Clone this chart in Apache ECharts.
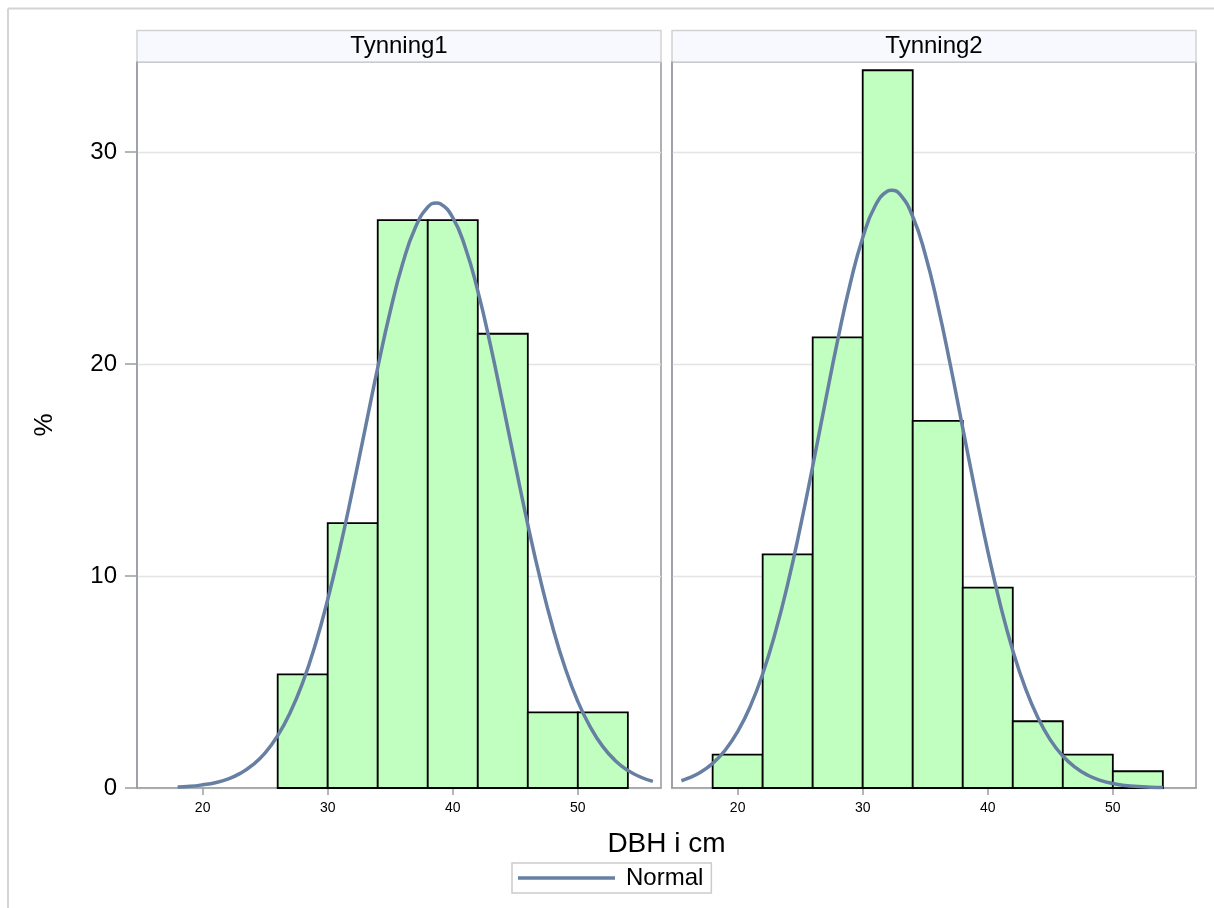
<!DOCTYPE html>
<html>
<head>
<meta charset="utf-8">
<style>
  html, body { margin: 0; padding: 0; background: #ffffff; }
  #chart { width: 1214px; height: 908px; }
</style>
<script src="https://cdn.jsdelivr.net/npm/echarts@6/dist/echarts.min.js"></script>
</head>
<body>
<div id="chart"></div>
<script>
// ---------- data ----------
const panels = ['Tynning1', 'Tynning2'];

// histogram bins (DBH in cm) and percent of trees
const binStart1 = [26, 30, 34, 38, 42, 46, 50];
const binEnd1   = [30, 34, 38, 42, 46, 50, 54];
const pct1      = [5.36, 12.5, 26.79, 26.79, 21.43, 3.57, 3.57];

const binStart2 = [18, 22, 26, 30, 34, 38, 42, 46, 50];
const binEnd2   = [22, 26, 30, 34, 38, 42, 46, 50, 54];
const pct2      = [1.57, 11.02, 21.26, 33.86, 17.32, 9.45, 3.15, 1.57, 0.79];

// fitted normal curve
const curveX1 = [18, 19, 20, 21, 22, 23, 24, 25, 26, 27, 28, 29, 30, 31, 32, 33, 34, 35, 36, 37, 38, 38.7, 39, 40, 41, 42, 43, 44, 45, 46, 47, 48, 49, 50, 51, 52, 53, 54, 55, 56];
const curveY1 = [0.05, 0.08, 0.15, 0.25, 0.42, 0.69, 1.09, 1.66, 2.47, 3.56, 4.97, 6.75, 8.89, 11.36, 14.10, 16.97, 19.83, 22.49, 24.75, 26.43, 27.40, 27.6, 27.56, 26.91, 25.50, 23.45, 20.93, 18.12, 15.24, 12.43, 9.84, 7.56, 5.64, 4.08, 2.87, 1.95, 1.29, 0.83, 0.52, 0.31];

const curveX2 = [15.5, 16, 17, 18, 19, 20, 21, 22, 23, 24, 25, 26, 27, 28, 29, 30, 31, 32, 32.3, 33, 34, 35, 36, 37, 38, 39, 40, 41, 42, 43, 44, 45, 46, 47, 48, 49, 50, 51, 52, 53, 54];
const curveY2 = [0.34, 0.45, 0.73, 1.16, 1.78, 2.66, 3.84, 5.38, 7.31, 9.62, 12.28, 15.18, 18.19, 21.13, 23.79, 25.96, 27.47, 28.16, 28.2, 27.99, 26.96, 25.17, 22.77, 19.98, 16.98, 14.00, 11.18, 8.65, 6.49, 4.72, 3.33, 2.27, 1.51, 0.97, 0.60, 0.36, 0.21, 0.12, 0.07, 0.04, 0.02];

const xTicks = [20, 30, 40, 50];
const yTicks = [0, 10, 20, 30];

// ---------- chart ----------
const FONT = "'Liberation Sans', Arial, sans-serif";
const BORDER = '#9A9EA3';
const CURVE = '#667FA2';

function zip3(a, b, c) { return a.map((v, i) => [v, b[i], c[i]]); }
function zip2(a, b) { return a.map((v, i) => [v, b[i]]); }

function renderBar(params, api) {
  const p0 = api.coord([api.value(0), api.value(2)]);
  const p1 = api.coord([api.value(1), 0]);
  return {
    type: 'rect',
    shape: { x: p0[0], y: p0[1], width: p1[0] - p0[0], height: p1[1] - p0[1] },
    style: { fill: '#C0FFC0', stroke: '#000000', lineWidth: 1.8 }
  };
}

const gridLeft = [137, 672];
const gridW = 524;

function xAxis(i) {
  return {
    type: 'value', gridIndex: i, min: 14.75, max: 56.65,
    axisLine: { show: true, lineStyle: { color: BORDER, width: 1.5 } },
    axisTick: { show: true, length: 7, lineStyle: { color: BORDER, width: 1.5 }, customValues: xTicks },
    axisLabel: { show: true, customValues: xTicks, fontSize: 14, color: '#000', fontFamily: FONT, margin: 13 },
    splitLine: { show: false }
  };
}
function yAxis(i) {
  return {
    type: 'value', gridIndex: i, min: 0, max: 34.25, interval: 10,
    axisLine: { show: true, lineStyle: { color: BORDER, width: 1.5 } },
    axisTick: { show: i === 0, length: 12, lineStyle: { color: BORDER, width: 1.5 }, customValues: yTicks },
    axisLabel: { show: i === 0, customValues: yTicks, fontSize: 24, color: '#000', fontFamily: FONT, margin: 20 },
    splitLine: { show: true, lineStyle: { color: '#E4E4E4', width: 1.3 } }
  };
}

const graphics = [
  { type: 'line', shape: { x1: 8, y1: 8.5, x2: 1214, y2: 8.5 }, style: { stroke: '#D4D4D4', lineWidth: 2 }, silent: true },
  { type: 'line', shape: { x1: 8, y1: 8.5, x2: 8, y2: 908 }, style: { stroke: '#D4D4D4', lineWidth: 2 }, silent: true },
  { type: 'text', x: 45, y: 425, rotation: Math.PI / 2,
    style: { text: '%', font: '26px ' + FONT, fill: '#000', textAlign: 'center', textVerticalAlign: 'middle' } },
  { type: 'text', x: 666.5, y: 844,
    style: { text: 'DBH i cm', font: '28px ' + FONT, fill: '#000', textAlign: 'center', textVerticalAlign: 'middle' } }
];
panels.forEach((name, i) => {
  graphics.push({ type: 'rect', shape: { x: gridLeft[i], y: 30.5, width: gridW, height: 31.5 },
    style: { fill: '#F8F9FE', stroke: '#D2D2D2', lineWidth: 1.5 }, silent: true });
  graphics.push({ type: 'text', x: gridLeft[i] + gridW / 2, y: 46.5,
    style: { text: name, font: '24px ' + FONT, fill: '#000', textAlign: 'center', textVerticalAlign: 'middle' } });
});

const option = {
  backgroundColor: '#ffffff',
  animation: false,
  grid: gridLeft.map(l => ({ left: l, top: 62, width: gridW, height: 726, show: true,
    borderColor: BORDER, borderWidth: 1.6, backgroundColor: 'transparent' })),
  xAxis: [xAxis(0), xAxis(1)],
  yAxis: [yAxis(0), yAxis(1)],
  legend: {
    data: [{ name: 'Normal', icon: 'rect' }], left: 512, top: 863,
    padding: [3, 8, 3, 6],
    borderColor: '#CCCCCC', borderWidth: 1.5, borderRadius: 0,
    itemWidth: 97, itemHeight: 3.5,
    itemStyle: { color: CURVE, borderWidth: 0 },
    textStyle: { fontSize: 24, color: '#000', fontFamily: FONT, padding: [0, 0, 0, 6] }
  },
  series: [
    { type: 'custom', name: 'Bars1', xAxisIndex: 0, yAxisIndex: 0, renderItem: renderBar,
      encode: { x: [0, 1], y: 2 }, data: zip3(binStart1, binEnd1, pct1), z: 2 },
    { type: 'custom', name: 'Bars2', xAxisIndex: 1, yAxisIndex: 1, renderItem: renderBar,
      encode: { x: [0, 1], y: 2 }, data: zip3(binStart2, binEnd2, pct2), z: 2 },
    { type: 'line', name: 'Normal', xAxisIndex: 0, yAxisIndex: 0, data: zip2(curveX1, curveY1),
      smooth: true, symbol: 'none', lineStyle: { color: CURVE, width: 3.5 }, itemStyle: { color: CURVE }, z: 5 },
    { type: 'line', name: 'Normal', xAxisIndex: 1, yAxisIndex: 1, data: zip2(curveX2, curveY2),
      smooth: true, symbol: 'none', lineStyle: { color: CURVE, width: 3.5 }, itemStyle: { color: CURVE }, z: 5 }
  ],
  graphic: graphics
};

const chart = echarts.init(document.getElementById('chart'), null, { renderer: 'canvas' });
chart.setOption(option);
</script>
</body>
</html>
